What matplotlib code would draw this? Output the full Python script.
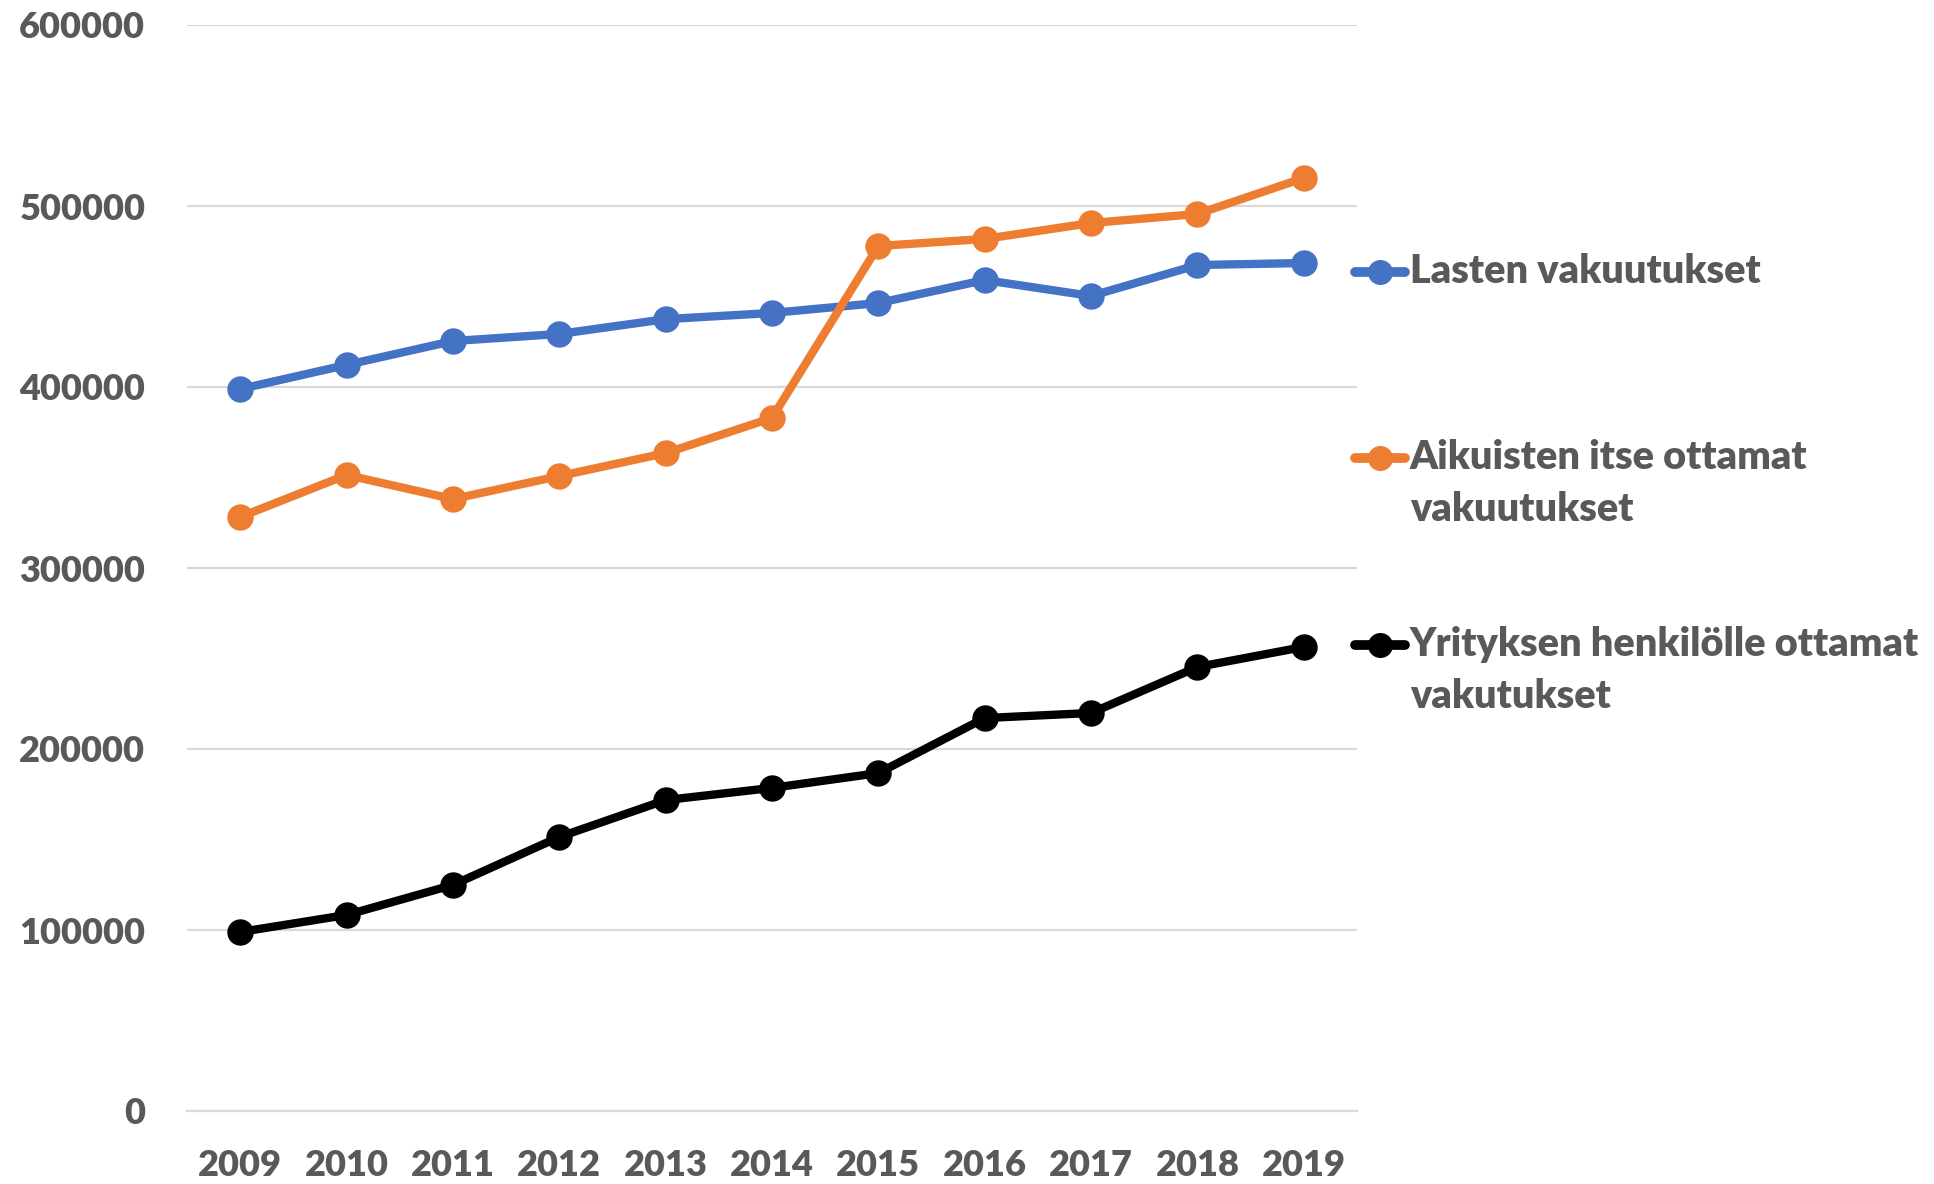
import matplotlib
matplotlib.use("Agg")
import matplotlib.pyplot as plt
from matplotlib.lines import Line2D

# data
years = ["2009", "2010", "2011", "2012", "2013", "2014", "2015", "2016", "2017", "2018", "2019"]
lasten = [398900, 412200, 425400, 429300, 437500, 440900, 446400, 459100, 450300, 467400, 468500]
aikuisten = [328200, 351400, 338100, 350800, 363500, 382900, 477900, 481800, 490600, 495600, 515500]
yritysten = [98900, 108300, 124900, 151400, 171800, 178500, 186700, 217100, 219900, 245300, 256400]

labels = ["Lasten vakuutukset",
          "Aikuisten itse ottamat\nvakuutukset",
          "Yrityksen henkilölle ottamat\nvakutukset"]
colors = ["#4472c4", "#ed7d31", "#000000"]

W, H = 1934, 1184
txt_color = "#595959"
plt.rcParams['font.family'] = ['Lato', 'DejaVu Sans']
plt.rcParams['font.weight'] = 'heavy'

fig = plt.figure(figsize=(W / 100, H / 100), dpi=100)
ax = fig.add_axes([187 / W, 1 - 1111 / H, (1357 - 187) / W, (1111 - 25) / H])

x = list(range(len(years)))
for vals, c in zip([lasten, aikuisten, yritysten], colors):
    ax.plot(x, vals, color=c, linewidth=6, marker='o', markersize=18,
            solid_capstyle='round', zorder=3)

ax.set_xlim(-0.5, len(years) - 0.5)
ax.set_ylim(0, 600000)
ax.set_yticks(range(0, 600001, 100000))
ax.set_xticks(x)
ax.set_xticklabels(years)
ax.grid(axis='y', color='#d9d9d9', linewidth=1.6)
ax.set_axisbelow(True)
for s in ['top', 'right', 'left']:
    ax.spines[s].set_visible(False)
ax.spines['bottom'].set_color('#d9d9d9')
ax.spines['bottom'].set_linewidth(1.6)
ax.tick_params(axis='both', length=0, labelsize=26, labelcolor=txt_color)
ax.tick_params(axis='y', pad=30)
ax.tick_params(axis='x', pad=27)

# legend drawn by hand on the right side
rows = [272, 458, 645]
for lab, c, yy in zip(labels, colors, rows):
    yf = 1 - yy / H
    fig.add_artist(Line2D([1355 / W, 1405 / W], [yf, yf], transform=fig.transFigure,
                          color=c, linewidth=7, solid_capstyle='round'))
    fig.add_artist(Line2D([1380 / W], [yf], transform=fig.transFigure,
                          color=c, marker='o', markersize=17))
    for i, part in enumerate(lab.split("\n")):
        base = yy + 11 + i * 52
        fig.text(1410 / W, 1 - base / H, part, fontsize=28.5, color=txt_color,
                 va='baseline', ha='left')

fig.savefig("out.png", dpi=100)
